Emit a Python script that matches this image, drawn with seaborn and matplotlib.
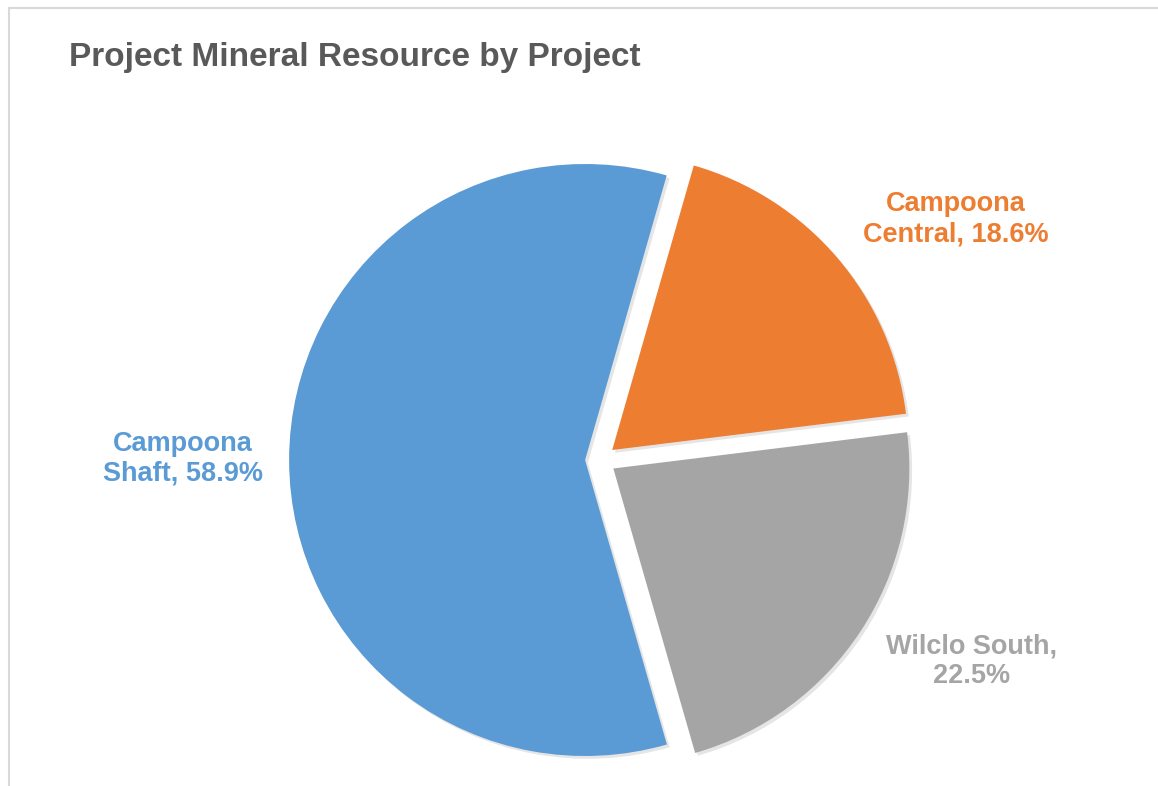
import matplotlib
matplotlib.use("Agg")
import matplotlib.pyplot as plt
import matplotlib.patheffects as pe
from matplotlib.patches import Rectangle
import seaborn as sns

# ---- data ----
categories = ["Campoona Central", "Wilclo South", "Campoona Shaft"]
values = [18.6, 22.5, 58.9]
label_texts = ["Campoona\nCentral, 18.6%", "Wilclo South,\n22.5%", "Campoona\nShaft, 58.9%"]
colors = ["#ED7D31", "#A5A5A5", "#5B9BD5"]
title = "Project Mineral Resource by Project"

sns.set_theme(style="white")
plt.rcParams["font.family"] = ["Liberation Sans", "DejaVu Sans"]

W, H = 1158, 786
fig = plt.figure(figsize=(W / 100, H / 100), dpi=100)
ax = fig.add_axes([0, 0, 1, 1])

wedges, _ = ax.pie(values, colors=colors, startangle=74, counterclock=False,
                   explode=[0.052] * len(values), radius=1.0,
                   wedgeprops=dict(linewidth=0))
for w in wedges:
    w.set_path_effects([pe.SimplePatchShadow(offset=(2, -2), shadow_rgbFace="black", alpha=0.10),
                        pe.Normal()])

# pixel geometry -> data limits (1 unit = radius)
R = 296.0
cx, cy = 600.5, 460.0
ax.set_aspect("auto")
ax.set_xlim(-cx / R, (W - cx) / R)
ax.set_ylim(-(H - cy) / R, cy / R)
ax.axis("off")

# label positions (pixel centres, converted to data units)
label_px = [(956, 219), (972, 661), (183, 459)]
for txt, col, (px, py) in zip(label_texts, colors, label_px):
    ax.text((px - cx) / R, (cy - py) / R, txt, color=col, fontsize=19.5,
            fontweight="bold", ha="center", va="center", linespacing=1.2)

fig.text(69 / W, 1 - 66 / H, title, fontsize=24, fontweight="bold",
         color="#595959", ha="left", va="baseline")

# chart border
fig.patches.append(Rectangle((8.5 / W, -0.05), 1.2, 1 - 8.5 / H + 0.05,
                             transform=fig.transFigure, fill=False,
                             edgecolor="#D9D9D9", linewidth=1.5))

fig.savefig("out.png", dpi=100, facecolor="white")
